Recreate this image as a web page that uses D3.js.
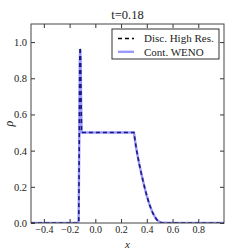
<!DOCTYPE html>
<html>
<head>
<meta charset="utf-8">
<script src="https://cdn.jsdelivr.net/npm/d3@7"></script>
<style>
  body { margin: 0; background: #fff; }
  text { font-family: "Liberation Serif", "DejaVu Serif", serif; fill: #222; }
</style>
</head>
<body>
<div id="chart"></div>
<script>
// values
const xTicks = [-0.4, -0.2, 0.0, 0.2, 0.4, 0.6, 0.8];
const yTicks = [0.0, 0.2, 0.4, 0.6, 0.8, 1.0];
const seriesNames = ["Disc. High Res.", "Cont. WENO"];

const discX = [-0.5, -0.135, -0.129, -0.125, -0.121, -0.118, -0.115, -0.111, -0.107, -0.1, 0.0, 0.1, 0.2, 0.3, 0.31, 0.32, 0.34, 0.36, 0.38, 0.40, 0.42, 0.44, 0.46, 0.48, 0.50, 0.52, 0.6, 0.8, 1.0];
const discY = [0.0, 0.0, 0.01, 0.45, 0.9, 0.97, 0.93, 0.7, 0.5, 0.5, 0.5, 0.5, 0.5, 0.5, 0.45, 0.405, 0.33, 0.265, 0.205, 0.15, 0.103, 0.065, 0.036, 0.016, 0.005, 0.0, 0.0, 0.0, 0.0];

const wenoX = [-0.5, -0.135, -0.13, -0.125, -0.121, -0.118, -0.115, -0.111, -0.107, -0.1, 0.0, 0.1, 0.2, 0.3, 0.31, 0.32, 0.34, 0.36, 0.38, 0.40, 0.42, 0.44, 0.46, 0.48, 0.50, 0.52, 0.6, 0.8, 1.0];
const wenoY = [0.0, 0.0, 0.015, 0.43, 0.88, 0.96, 0.92, 0.7, 0.5, 0.5, 0.5, 0.5, 0.5, 0.5, 0.45, 0.405, 0.33, 0.265, 0.205, 0.15, 0.104, 0.066, 0.037, 0.017, 0.006, 0.001, 0.0, 0.0, 0.0];

const w = 249, h = 249;
const margin = { left: 31, right: 25, top: 24, bottom: 26 };

const svg = d3.select("#chart").append("svg")
  .attr("width", w)
  .attr("height", h);

const xScale = d3.scaleLinear().domain([-0.5, 1.0]).range([margin.left, w - margin.right]);
const yScale = d3.scaleLinear().domain([0, 1.1]).range([h - margin.bottom, margin.top]);

const fmt = d => (d < 0 ? "\u2212" : "") + Math.abs(d).toFixed(1);

// axes with inward ticks on all four sides
svg.append("g")
  .attr("transform", `translate(0, ${h - margin.bottom})`)
  .call(d3.axisBottom(xScale).tickValues(xTicks).tickSizeInner(-4).tickSizeOuter(0).tickPadding(3).tickFormat(fmt))
  .call(g => g.select(".domain").remove())
  .selectAll("text").attr("font-size", 10).attr("fill", "#333");
svg.append("g")
  .attr("transform", `translate(0, ${margin.top})`)
  .call(d3.axisTop(xScale).tickValues(xTicks).tickSizeInner(-4).tickSizeOuter(0).tickFormat(""))
  .call(g => g.select(".domain").remove());
svg.append("g")
  .attr("transform", `translate(${margin.left}, 0)`)
  .call(d3.axisLeft(yScale).tickValues(yTicks).tickSizeInner(-4).tickSizeOuter(0).tickPadding(4).tickFormat(d => d.toFixed(1)))
  .call(g => g.select(".domain").remove())
  .selectAll("text").attr("font-size", 10.5).attr("fill", "#333");
svg.append("g")
  .attr("transform", `translate(${w - margin.right}, 0)`)
  .call(d3.axisRight(yScale).tickValues(yTicks).tickSizeInner(-4).tickSizeOuter(0).tickFormat(""))
  .call(g => g.select(".domain").remove());
svg.selectAll(".tick line").attr("stroke", "#333");

svg.append("clipPath").attr("id", "clip")
  .append("rect")
  .attr("x", margin.left).attr("y", margin.top)
  .attr("width", w - margin.left - margin.right)
  .attr("height", h - margin.top - margin.bottom);

const line = d3.line().x(d => xScale(d[0])).y(d => yScale(d[1]));

svg.append("path")
  .datum(discX.map((x, i) => [x, discY[i]]))
  .attr("clip-path", "url(#clip)")
  .attr("fill", "none")
  .attr("stroke", "#000")
  .attr("stroke-width", 1.6)
  .attr("stroke-dasharray", "4,3")
  .attr("d", line);

svg.append("path")
  .datum(wenoX.map((x, i) => [x, wenoY[i]]))
  .attr("clip-path", "url(#clip)")
  .attr("fill", "none")
  .attr("stroke", "#3333ff")
  .attr("stroke-opacity", 0.5)
  .attr("stroke-width", 2.4)
  .attr("d", line);

// frame
svg.append("rect")
  .attr("x", margin.left).attr("y", margin.top)
  .attr("width", w - margin.left - margin.right)
  .attr("height", h - margin.top - margin.bottom)
  .attr("fill", "none")
  .attr("stroke", "#444")
  .attr("stroke-width", 1);

// title and labels
svg.append("text")
  .attr("x", (margin.left + w - margin.right) / 2)
  .attr("y", 19)
  .attr("text-anchor", "middle")
  .attr("font-size", 12.5)
  .text("t=0.18");
svg.append("text")
  .attr("x", (margin.left + w - margin.right) / 2)
  .attr("y", 247.5)
  .attr("text-anchor", "middle")
  .attr("font-size", 11)
  .attr("font-style", "italic")
  .text("x");
svg.append("text")
  .attr("transform", `translate(13, ${yScale(0.55)}) rotate(-90)`)
  .attr("text-anchor", "middle")
  .attr("font-size", 12)
  .attr("font-style", "italic")
  .text("\u03C1");

// legend
const legend = svg.append("g").attr("transform", "translate(112, 29)");
legend.append("rect")
  .attr("width", 107).attr("height", 30)
  .attr("fill", "#fff")
  .attr("stroke", "#333")
  .attr("stroke-width", 1);
const legendStyles = [
  { stroke: "#000", dash: "4,3", width: 1.6, opacity: 1 },
  { stroke: "#3333ff", dash: null, width: 2.4, opacity: 0.5 }
];
seriesNames.forEach((name, i) => {
  const yy = 9.5 + i * 13.3;
  legend.append("line")
    .attr("x1", 6).attr("x2", 22)
    .attr("y1", yy).attr("y2", yy)
    .attr("stroke", legendStyles[i].stroke)
    .attr("stroke-width", legendStyles[i].width)
    .attr("stroke-opacity", legendStyles[i].opacity)
    .attr("stroke-dasharray", legendStyles[i].dash);
  legend.append("text")
    .attr("x", 32).attr("y", yy + 3.8)
    .attr("font-size", 11)
    .text(name);
});
</script>
</body>
</html>
